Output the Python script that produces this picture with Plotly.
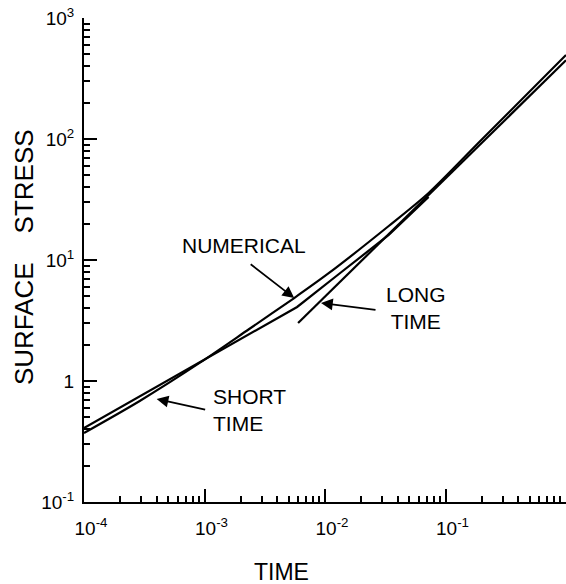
import plotly.graph_objects as go
import numpy as np

# ---- data ----
num_t = [1e-4, 2.90e-4, 9.1e-4, 2.35e-3, 5.55e-3, 1.08e-2, 3.38e-2, 7.24e-2, 0.198, 1.0]
num_s = [0.372, 0.684, 1.41, 2.69, 4.85, 7.81, 19.1, 35.8, 98.1, 494.0]

short_t = [1e-4, 5.87e-3, 1.305e-2, 3.38e-2, 7.24e-2]
short_s = [0.409, 4.09, 7.66, 16.1, 33.2]

long_t = [5.98e-3, 1.0]
long_s = [3.02, 447.0]

x_major = [1e-4, 1e-3, 1e-2, 1e-1, 1.0]
x_major_text = ["10<sup>-4</sup>", "10<sup>-3</sup>", "10<sup>-2</sup>", "10<sup>-1</sup>", ""]
y_major = [0.1, 1.0, 10.0, 100.0, 1000.0]
y_major_text = ["10<sup>-1</sup>", "1", "10<sup>1</sup>", "10<sup>2</sup>", "10<sup>3</sup>"]

x_minor = [m * d for d in [1e-4, 1e-3, 1e-2, 1e-1] for m in range(2, 10)]
y_minor = [m * d for d in [0.1, 1.0, 10.0, 100.0] for m in range(2, 10)]

FONT = "Liberation Sans, Arial, sans-serif"
LW = 2.2

fig = go.Figure()
fig.add_trace(go.Scatter(x=num_t, y=num_s, mode="lines",
                         line=dict(color="black", width=LW, shape="spline", smoothing=0.8),
                         showlegend=False, hoverinfo="skip"))
fig.add_trace(go.Scatter(x=short_t, y=short_s, mode="lines",
                         line=dict(color="black", width=LW),
                         showlegend=False, hoverinfo="skip"))
fig.add_trace(go.Scatter(x=long_t, y=long_s, mode="lines",
                         line=dict(color="black", width=LW),
                         showlegend=False, hoverinfo="skip"))

tickfont = dict(family=FONT, size=19, color="black")
fig.update_xaxes(type="log", range=[-4, 0], showgrid=False, zeroline=False, automargin=False,
                 showline=True, linecolor="black", linewidth=2,
                 tickmode="array", tickvals=x_major, ticktext=x_major_text,
                 ticks="inside", ticklen=13, tickwidth=2, tickcolor="black",
                 tickfont=tickfont, ticklabelstandoff=8, ticklabelshift=7,
                 ticklabeloverflow="allow",
                 minor=dict(tickmode="array", tickvals=x_minor, ticks="inside",
                            ticklen=6, tickwidth=2, tickcolor="black", showgrid=False))
fig.update_yaxes(type="log", range=[-1, 3], showgrid=False, zeroline=False, automargin=False,
                 showline=True, linecolor="black", linewidth=2,
                 tickmode="array", tickvals=y_major, ticktext=y_major_text,
                 ticks="inside", ticklen=13, tickwidth=2, tickcolor="black",
                 tickfont=tickfont, ticklabelstandoff=4, ticklabeloverflow="allow",
                 minor=dict(tickmode="array", tickvals=y_minor, ticks="inside",
                            ticklen=6, tickwidth=2, tickcolor="black", showgrid=False))

lab = dict(family=FONT, size=21, color="black")
arrow = dict(showarrow=True, arrowhead=2, arrowsize=1.3, arrowwidth=1.8,
             arrowcolor="black", text="", axref="pixel", ayref="pixel")
# arrows: head on curve, tail offset in pixels
fig.add_annotation(x=np.log10(5.55e-3), y=np.log10(4.85), ax=-45, ay=-35, **arrow)
fig.add_annotation(x=-2.033, y=0.645, ax=56, ay=7, **arrow)
fig.add_annotation(x=-3.397, y=-0.149, ax=50, ay=11, **arrow)

fig.add_annotation(x=-2.669, y=1.124, text="NUMERICAL", showarrow=False, font=lab,
                   xanchor="center", yanchor="middle")
fig.add_annotation(x=-1.248, y=0.603, text="LONG<br>TIME", showarrow=False, font=lab,
                   xanchor="center", yanchor="middle", align="center")
fig.add_annotation(x=-2.942, y=-0.236, text="SHORT<br>TIME", showarrow=False, font=lab,
                   xanchor="left", yanchor="middle", align="left")

fig.add_annotation(xref="paper", yref="paper", x=-0.1245, y=0.506,
                   text="SURFACE    STRESS", textangle=-90, showarrow=False,
                   xanchor="center", yanchor="middle",
                   font=dict(family=FONT, size=26, color="black"))
fig.add_annotation(xref="paper", yref="paper", x=0.409, y=-0.1446,
                   text="TIME", showarrow=False, xanchor="center", yanchor="middle",
                   font=dict(family=FONT, size=23, color="black"))

fig.update_layout(width=566, height=584, margin=dict(l=84, r=0, t=18, b=82, autoexpand=False),
                  plot_bgcolor="white", paper_bgcolor="white")

# remove the default 8px page margin so the figure fills the window exactly
fig.write_html("out.html", config={"displayModeBar": False},
               post_script="document.body.style.margin='0';")
